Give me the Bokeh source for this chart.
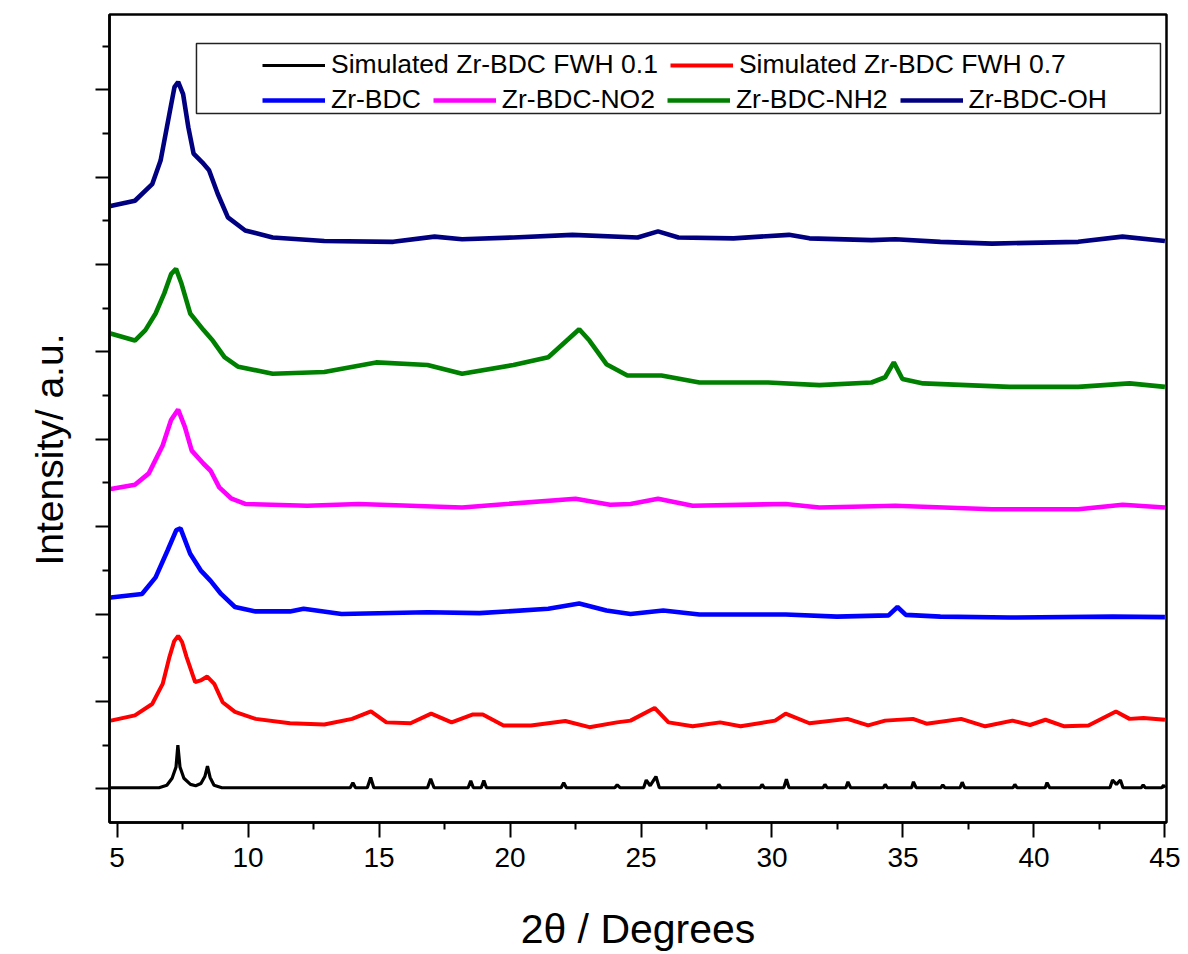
from bokeh.plotting import figure
from bokeh.models import (Range1d, FixedTicker, Legend, LegendItem,
                          BoxAnnotation, Title)
from bokeh.embed import file_html
from bokeh.resources import INLINE

# ---------------- data (2theta in degrees, intensity in a.u., curves offset) ----
x_major = [5, 10, 15, 20, 25, 30, 35, 40, 45]
x_minor = [7.5, 12.5, 17.5, 22.5, 27.5, 32.5, 37.5, 42.5]
y_major = [0, 1000, 2000, 3000, 4000, 5000, 6000, 7000, 8000]
y_minor = [500, 1500, 2500, 3500, 4500, 5500, 6500, 7500, 8500]

sim01_x = [4.75, 6.6, 6.9, 7.1, 7.25, 7.32, 7.40, 7.55, 7.8, 8.0, 8.2, 8.35, 8.45,
           8.55, 8.7, 9.0, 13.9, 14.0, 14.1, 14.55, 14.68, 14.8, 16.85, 16.97, 17.1,
           18.4, 18.5, 18.6, 18.9, 19.0, 19.1, 21.95, 22.05, 22.15, 24.0, 24.09, 24.2,
           25.1, 25.2, 25.35, 25.57, 25.7, 27.9, 27.97, 28.05, 29.55, 29.62, 29.7,
           30.45, 30.55, 30.65, 31.95, 32.02, 32.1, 32.82, 32.9, 33.0, 34.25, 34.32,
           34.4, 35.33, 35.4, 35.5, 36.45, 36.52, 36.6, 37.18, 37.26, 37.35, 39.2,
           39.27, 39.35, 40.43, 40.5, 40.6, 42.9, 43.0, 43.15, 43.3, 43.4, 44.1,
           44.17, 44.25, 44.88, 44.95, 45.0]
sim01_y = [12, 12, 40, 120, 250, 500, 250, 120, 50, 35, 60, 140, 260,
           130, 40, 12, 12, 70, 12, 12, 130, 12, 12, 115, 12,
           12, 90, 12, 12, 95, 12, 12, 70, 12, 12, 45, 12,
           12, 100, 35, 140, 12, 12, 50, 12, 12, 50, 12,
           12, 110, 12, 12, 50, 12, 12, 80, 12, 12, 50,
           12, 12, 80, 12, 12, 45, 12, 12, 75, 12, 12,
           50, 12, 12, 70, 12, 12, 100, 50, 100, 12, 12,
           45, 12, 12, 40, 12]

sim07_x = [4.76, 5.68, 6.34, 6.74, 7.00, 7.18, 7.33, 7.48, 7.65, 7.98, 8.19, 8.44,
           8.71, 9.03, 9.50, 10.29, 11.60, 12.91, 13.97, 14.69, 15.28, 16.20, 16.99,
           17.77, 18.56, 18.96, 19.75, 20.80, 22.11, 23.03, 24.08, 24.60, 25.52,
           26.05, 26.97, 28.02, 28.80, 30.12, 30.52, 31.43, 32.88, 33.67, 34.32,
           35.38, 35.90, 37.22, 38.14, 39.18, 39.85, 40.44, 41.16, 42.08, 43.13,
           43.65, 44.18, 45.0]
sim07_y = [780, 840, 970, 1200, 1510, 1690, 1750, 1680, 1510, 1220, 1240, 1285,
           1200, 990, 880, 800, 750, 735, 800, 885, 760, 750, 860,
           760, 850, 850, 725, 725, 775, 705, 760, 780, 925,
           760, 715, 760, 715, 780, 860, 750, 800, 725, 780,
           800, 745, 800, 715, 780, 730, 790, 715, 725, 885,
           800, 810, 790]

bdc_x = [4.76, 5.95, 6.47, 6.93, 7.26, 7.42, 7.79, 8.19, 8.57, 8.97, 9.50, 10.29,
         11.60, 12.12, 13.57, 16.85, 18.83, 21.46, 22.64, 23.68, 24.60, 25.85,
         27.23, 30.52, 32.48, 34.45, 34.79, 35.11, 36.43, 39.06, 43.0, 45.0]
bdc_y = [2190, 2230, 2420, 2730, 2960, 2980, 2690, 2500, 2380, 2230, 2080, 2030,
         2030, 2060, 2000, 2020, 2010, 2060, 2120, 2040, 2000, 2040,
         1995, 1995, 1970, 1985, 2080, 1990, 1970, 1960, 1970, 1965]

no2_x = [4.76, 5.68, 6.21, 6.74, 7.06, 7.33, 7.59, 7.85, 8.30, 8.57, 8.90, 9.37,
         9.89, 12.26, 14.22, 18.17, 22.50, 23.82, 24.60, 25.65, 26.97, 30.52,
         31.81, 34.71, 38.40, 41.69, 43.39, 45.0]
no2_y = [3430, 3480, 3610, 3930, 4220, 4340, 4140, 3870, 3720, 3640, 3450, 3320,
         3260, 3240, 3260, 3220, 3320, 3250, 3260, 3320, 3240, 3260,
         3220, 3240, 3200, 3200, 3250, 3220]

nh2_x = [4.75, 5.68, 6.08, 6.47, 6.80, 7.06, 7.25, 7.46, 7.79, 8.30, 8.65, 9.10,
         9.63, 10.94, 12.91, 14.89, 16.85, 18.17, 20.13, 21.46, 22.24, 22.64,
         23.03, 23.68, 24.48, 25.78, 27.23, 29.85, 31.81, 33.80, 34.32, 34.65,
         34.98, 35.77, 39.06, 41.69, 43.65, 45.0]
nh2_y = [5210, 5130, 5250, 5440, 5670, 5890, 5950, 5780, 5440, 5250, 5130, 4940,
         4830, 4750, 4770, 4880, 4850, 4750, 4850, 4940, 5150, 5260,
         5130, 4860, 4730, 4730, 4650, 4650, 4620, 4650, 4710, 4880,
         4690, 4640, 4600, 4600, 4640, 4600]

oh_x = [4.75, 5.68, 6.34, 6.66, 7.00, 7.19, 7.33, 7.52, 7.72, 7.92, 8.25, 8.51,
        8.84, 9.23, 9.89, 10.94, 12.91, 15.54, 17.12, 18.17, 20.13, 22.38,
        24.87, 25.65, 26.43, 28.53, 30.65, 31.43, 33.80, 34.71, 36.43, 38.40,
        41.69, 43.38, 45.0]
oh_y = [6670, 6730, 6920, 7190, 7730, 8030, 8090, 7950, 7570, 7270, 7170, 7080,
        6810, 6540, 6390, 6310, 6270, 6260, 6320, 6290, 6310, 6340,
        6310, 6380, 6310, 6300, 6340, 6300, 6280, 6290, 6260, 6240,
        6260, 6320, 6270]

series = [
    ("Simulated Zr-BDC FWH 0.1", sim01_x, sim01_y, "#000000", 3.2),
    ("Simulated Zr-BDC FWH 0.7", sim07_x, sim07_y, "#ff0000", 4.0),
    ("Zr-BDC", bdc_x, bdc_y, "#0000ff", 4.6),
    ("Zr-BDC-NO2", no2_x, no2_y, "#ff00ff", 4.6),
    ("Zr-BDC-NH2", nh2_x, nh2_y, "#008000", 4.6),
    ("Zr-BDC-OH", oh_x, oh_y, "#000080", 4.6),
]
for name, xs, ys, _, _ in series:
    assert len(xs) == len(ys), name

FONT = "Liberation Sans"

p = figure(width=1188, height=954, output_backend="svg", toolbar_location=None,
           x_range=Range1d(4.71, 45.06), y_range=Range1d(-386, 8862),
           min_border_left=109, min_border_right=22, min_border_top=14,
           min_border_bottom=132)
p.xgrid.visible = False
p.ygrid.visible = False
p.background_fill_color = "white"
p.border_fill_color = "white"
p.outline_line_color = "black"
p.outline_line_width = 2.5
p.outline_line_alpha = 1.0

xa = p.xaxis[0]
xa.ticker = FixedTicker(ticks=x_major, minor_ticks=x_minor)
xa.axis_line_width = 2.5
xa.major_tick_in = 0
xa.major_tick_out = 15
xa.minor_tick_in = 0
xa.minor_tick_out = 7
xa.major_tick_line_width = 2
xa.minor_tick_line_width = 2
xa.major_label_text_font = FONT
xa.major_label_text_font_size = "28px"
xa.major_label_text_color = "black"
xa.major_label_standoff = 10
xa.axis_label = "2θ / Degrees"
xa.axis_label_text_font = FONT
xa.axis_label_text_font_size = "41px"
xa.axis_label_text_font_style = "normal"
xa.axis_label_text_color = "black"
xa.axis_label_standoff = 36

ya = p.yaxis[0]
ya.ticker = FixedTicker(ticks=y_major, minor_ticks=y_minor)
ya.axis_line_width = 2.5
ya.major_tick_in = 0
ya.major_tick_out = 14
ya.minor_tick_in = 0
ya.minor_tick_out = 7
ya.major_tick_line_width = 2
ya.minor_tick_line_width = 2
ya.major_label_overrides = {t: "" for t in y_major}
ya.axis_label = None

renderers = {}
for name, xs, ys, col, lw in series:
    renderers[name] = p.line(xs, ys, line_color=col, line_width=lw)

# legend frame
box = BoxAnnotation(left=8.03, right=44.83, bottom=7729, top=8530,
                    fill_color="white", fill_alpha=1.0,
                    line_color="#222222", line_width=1.5, line_alpha=1.0)
p.add_layout(box)

def make_legend(names, loc):
    leg = Legend(items=[LegendItem(label=n, renderers=[renderers[n]]) for n in names],
                 orientation="horizontal", location=loc)
    leg.border_line_alpha = 0
    leg.background_fill_alpha = 0
    leg.padding = 0
    leg.margin = 0
    leg.spacing = 12
    leg.glyph_width = 63
    leg.glyph_height = 30
    leg.label_height = 30
    leg.label_standoff = 6
    leg.label_text_font = FONT
    leg.label_text_font_size = "26.5px"
    leg.label_text_color = "black"
    return leg

p.add_layout(make_legend(["Simulated Zr-BDC FWH 0.1", "Simulated Zr-BDC FWH 0.7"], (153, 742)))
p.add_layout(make_legend(["Zr-BDC", "Zr-BDC-NO2", "Zr-BDC-NH2", "Zr-BDC-OH"], (153, 707)))

ytitle = Title(text="Intensity/ a.u.", align="left", offset=257, standoff=50,
               text_font=FONT, text_font_size="39px", text_font_style="normal",
               text_color="black")
p.add_layout(ytitle, "left")

open("out.html", "w").write(file_html(p, INLINE))
